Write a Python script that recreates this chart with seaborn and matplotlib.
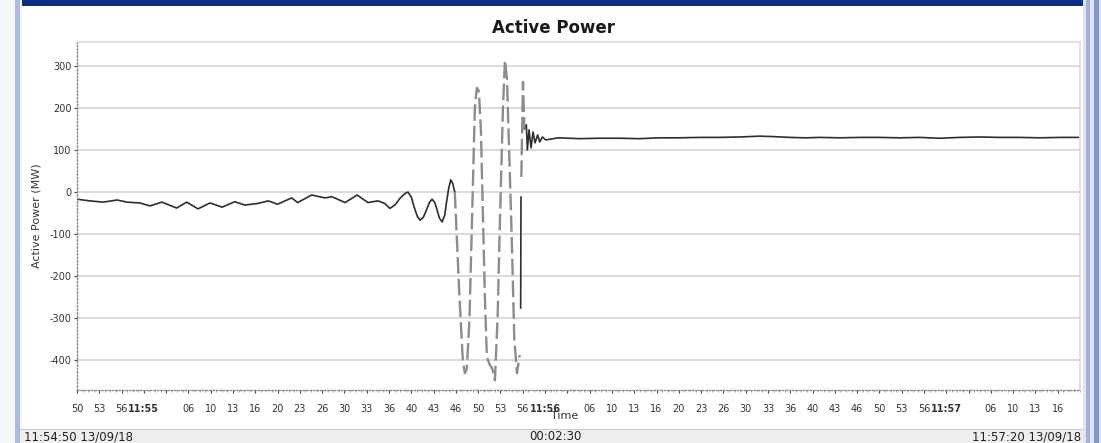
import numpy as np
import pandas as pd
import seaborn as sns
import matplotlib
matplotlib.use("Agg")
import matplotlib.pyplot as plt
from matplotlib.patches import Rectangle

# ---------------- text ----------------
title = "Active Power"
ylabel = "Active Power (MW)"
xlabel = "Time"
status_left = "11:54:50 13/09/18"
status_mid = "00:02:30"
status_right = "11:57:20 13/09/18"
y_ticks = [300, 200, 100, 0, -100, -200, -300, -400]
start_clock = (11, 54, 50)   # time of t = 0
span_s = 150                 # 11:54:50 -> 11:57:20

# ---------------- data (seconds after 11:54:50, MW) ----------------
t_pre = [0, 1.9, 3.9, 6.0, 7.5, 9.4, 10.9, 12.7, 14.9, 16.4, 18.1, 19.9, 21.7, 23.6,
         25.1, 27.1, 28.6, 30.0, 32.1, 33.0, 35.1, 37.1, 38.1, 40.1, 41.9, 43.5, 45.0,
         46.0, 46.8, 47.6, 48.3, 49.0, 49.5, 50.0, 50.4, 50.9, 51.3, 51.8, 52.2, 52.7,
         53.1, 53.5, 53.8, 54.2, 54.6, 55.0, 55.3, 55.6, 55.9, 56.2, 56.5]
p_pre = [-17, -21, -24, -19, -24, -26, -33, -24, -38, -24, -40, -26, -36, -23,
         -31, -27, -21, -29, -14, -25, -7, -14, -11, -25, -7, -25, -21,
         -27, -39, -30, -15, -4, 0, -12, -35, -58, -67, -60, -45, -25,
         -17, -25, -40, -62, -71, -55, -20, 10, 29, 20, 0]

t_swing = [56.5, 57.2, 57.7, 58.0, 58.3, 58.7, 59.1, 59.5, 59.8, 60.1, 60.4, 61.0,
           61.3, 61.7, 62.1, 62.5, 62.9, 63.2, 63.7, 64.0, 64.3, 65.0, 65.4, 65.8,
           66.2]
p_swing = [0, -250, -400, -431, -420, -300, -50, 200, 248, 240, 150, -250,
           -393, -410, -420, -448, -300, -100, 200, 314, 270, -100, -350, -431,
           -388]

t_spike = [66.35, 66.4]
p_spike = [-276, -12]

t_spike2 = [66.45, 66.7, 66.9]
p_spike2 = [36, 262, 150]

t_post = [66.9, 67.2, 67.35, 67.6, 67.9, 68.2, 68.5, 68.9, 69.2, 69.6, 70.1, 72.0,
          75.2, 78.0, 81.2, 84.0, 87.1, 90.0, 93.1, 96.0, 99.1, 102.1, 104.0, 106.6,
          109.0, 111.1, 114.1, 117.0, 120.0, 123.0, 126.0, 129.0, 132.0, 135.0,
          138.0, 141.0, 144.0, 147.0, 150.0]
p_post = [150, 160, 100, 148, 105, 143, 117, 136, 119, 131, 124, 129,
          127, 128, 128, 127, 129, 129, 130, 130, 131, 133, 132, 130,
          129, 130, 129, 130, 130, 129, 130, 128, 130, 131,
          130, 130, 129, 130, 130]

segments = [
    ("pre", "solid", t_pre, p_pre),
    ("swing", "dashed", t_swing, p_swing),
    ("spike", "solid", t_spike, p_spike),
    ("spike2", "dashed", t_spike2, p_spike2),
    ("post", "solid", t_post, p_post),
]
df = pd.concat(
    [pd.DataFrame({"t": t, "mw": p, "seg": name, "kind": kind})
     for name, kind, t, p in segments],
    ignore_index=True,
)

# ---------------- figure ----------------
W, H = 1101, 443
fig = plt.figure(figsize=(W / 100, H / 100), dpi=100)
fig.patch.set_facecolor("white")

def px_rect(x0, y0, x1, y1, color, z=0):
    fig.patches.append(Rectangle((x0 / W, 1 - y1 / H), (x1 - x0) / W, (y1 - y0) / H,
                                 transform=fig.transFigure, facecolor=color,
                                 edgecolor="none", zorder=z))

# window chrome
px_rect(0, 0, W, 6, "#0f2f86")
px_rect(0, 0, 22, H, "#f4f6fa")
px_rect(15, 0, 20, H, "#a9bde3")
px_rect(1083, 0, 1101, H, "#dfe6f3")
px_rect(1086, 0, 1090, H, "#9fb3dc")
px_rect(1094, 0, 1099, H, "#7f99cf")
px_rect(20, 430, 1083, H, "#eeeeee")
px_rect(20, 429, 1083, 430, "#c8c8c8")

ax = fig.add_axes([77 / W, 1 - 390 / H, (1080 - 77) / W, (390 - 42) / H])
ax.set_facecolor("white")

sns.lineplot(data=df, x="t", y="mw", units="seg", estimator=None, sort=False,
             hue="kind", style="kind",
             palette={"solid": "#2e2e2e", "dashed": "#8c8c8c"},
             dashes={"solid": "", "dashed": (7, 2.2)},
             legend=False, ax=ax)
for ln in ax.lines:
    if ln.get_color() == "#8c8c8c":
        ln.set_linewidth(1.7)
    else:
        ln.set_linewidth(1.2)

ax.set_xlim(0, span_s)
ax.set_ylim(-471, 357)

# y axis
ax.set_yticks(y_ticks)
ax.set_yticklabels([str(v) for v in y_ticks])
ax.grid(axis="y", color="#d4d4d4", linewidth=1.2)
ax.grid(axis="x", visible=False)
ax.set_axisbelow(True)

# x ticks every 10/3 s
step = 10 / 3
n = int(round(span_s / step))
xt = [i * step for i in range(n)]
base = start_clock[0] * 3600 + start_clock[1] * 60 + start_clock[2]
labels, bold = [], []
prev_minute = False
for x in xt:
    s = base + x
    sec = (s % 60)
    if abs(sec) < 1e-6 or abs(sec - 60) < 1e-6:
        m = int(round(s)) // 60
        labels.append(f"{m // 60}:{m % 60:02d}")
        bold.append(True)
        prev_minute = True
    else:
        labels.append("" if prev_minute else f"{int(np.floor(sec + 1e-6)):02d}")
        bold.append(False)
        prev_minute = False
ax.set_xticks(xt)
ax.set_xticklabels(labels)
for lab, b in zip(ax.get_xticklabels(), bold):
    lab.set_fontweight("bold" if b else "normal")
ax.set_xticks(np.arange(0, span_s + 0.01, step / 4), minor=True)

ax.tick_params(axis="both", which="major", labelsize=7, colors="#444444",
               length=2, width=0.8, labelcolor="#333333")
ax.tick_params(axis="x", which="major", pad=8)
ax.tick_params(axis="x", which="minor", length=1.5, color="#999999")
ax.tick_params(axis="y", pad=2)

for side in ("top", "right"):
    ax.spines[side].set_color("#dadada")
    ax.spines[side].set_linewidth(1.2)
for side in ("left", "bottom"):
    ax.spines[side].set_color("#888888")
    ax.spines[side].set_linestyle((0, (1, 1.5)))
    ax.spines[side].set_linewidth(1.0)

ax.set_xlabel("")
ax.set_ylabel(ylabel, fontsize=8, color="#333333", labelpad=6)

fig.text(553 / W, 1 - 28 / H, title, ha="center", va="center",
         fontsize=12, fontweight="bold", color="#1a1a1a")
fig.text(565 / W, 1 - 416 / H, xlabel, ha="center", va="center",
         fontsize=8, color="#333333")
fig.text(24 / W, 1 - 436.5 / H, status_left, ha="left", va="center",
         fontsize=8.5, color="#222222")
fig.text(555 / W, 1 - 436.5 / H, status_mid, ha="center", va="center",
         fontsize=8.5, color="#222222")
fig.text(1081 / W, 1 - 436.5 / H, status_right, ha="right", va="center",
         fontsize=8.5, color="#222222")

fig.savefig("out.png", dpi=100, facecolor=fig.get_facecolor())
